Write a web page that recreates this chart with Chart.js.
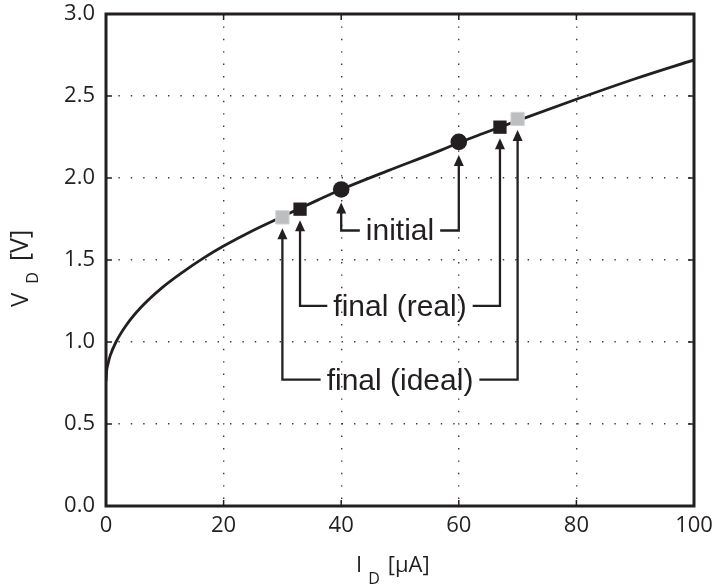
<!DOCTYPE html>
<html>
<head>
<meta charset="utf-8">
<script src="https://cdn.jsdelivr.net/npm/chart.js@4.4.1/dist/chart.umd.min.js"></script>
<style>
  html, body { margin: 0; padding: 0; background: #fff; }
  canvas { display: block; }
</style>
</head>
<body>
<canvas id="c" width="713" height="586"></canvas>
<script>
// Diode characteristic: drain current (µA) against diode voltage (V)
const currentUA = [0, 0.1, 0.3, 0.7, 1.7, 3.5, 6, 9.5, 13, 16.5, 20, 25, 30, 36, 40, 48, 57, 60, 64, 70, 80, 90, 100];
const voltageV  = [0.76, 0.82, 0.86, 0.915, 1.00, 1.105, 1.213, 1.33, 1.425, 1.51, 1.585, 1.68, 1.765, 1.865, 1.93, 2.045, 2.17, 2.215, 2.27, 2.35, 2.48, 2.605, 2.72];

// Operating points
const initialI = [40, 60];
const initialV = [1.93, 2.22];
const realI    = [33, 67];
const realV    = [1.81, 2.31];
const idealI   = [30, 70];
const idealV   = [1.76, 2.36];

// Tick values
const xTicks = [0, 20, 40, 60, 80, 100];
const yTicks = [0, 0.5, 1.0, 1.5, 2.0, 2.5, 3.0];

// Callout captions and the voltage level of their leader lines
const calloutText = ['initial', 'final (real)', 'final (ideal)'];
const calloutLevelV = [1.68, 1.22, 0.77];
const calloutCenterI = 50;

const ink = '#231f20';
const tickFont = { family: '"Open Sans", "DejaVu Sans", sans-serif', size: 22 };

const toPoints = (xs, ys) => xs.map((v, i) => ({ x: v, y: ys[i] }));

const callouts = [
  { text: calloutText[0], level: calloutLevelV[0], xs: initialI, ys: initialV, gap: 13 },
  { text: calloutText[1], level: calloutLevelV[1], xs: realI, ys: realV, gap: 11 },
  { text: calloutText[2], level: calloutLevelV[2], xs: idealI, ys: idealV, gap: 11 }
];

// Leader lines with arrowheads pointing at the operating points
const calloutPlugin = {
  id: 'callouts',
  afterDatasetsDraw(chart) {
    const { ctx, scales: { x, y } } = chart;
    ctx.save();
    ctx.font = '30px "Liberation Sans", Arial, sans-serif';
    ctx.fillStyle = ink;
    ctx.strokeStyle = ink;
    ctx.lineWidth = 2.3;
    ctx.lineJoin = 'miter';
    ctx.lineCap = 'butt';
    const cx = x.getPixelForValue(calloutCenterI);
    callouts.forEach(c => {
      const ly = y.getPixelForValue(c.level);
      const w = ctx.measureText(c.text).width;
      ctx.textAlign = 'center';
      ctx.textBaseline = 'alphabetic';
      ctx.fillText(c.text, cx, ly + 10);
      const ends = [cx - w / 2 - 6, cx + w / 2 + 6];
      c.xs.forEach((xi, k) => {
        const px = x.getPixelForValue(xi);
        const tip = y.getPixelForValue(c.ys[k]) + c.gap;
        ctx.beginPath();
        ctx.moveTo(ends[k], ly);
        ctx.lineTo(px, ly);
        ctx.lineTo(px, tip + 8);
        ctx.stroke();
        ctx.beginPath();
        ctx.moveTo(px, tip);
        ctx.lineTo(px - 5, tip + 11);
        ctx.lineTo(px + 5, tip + 11);
        ctx.closePath();
        ctx.fill();
      });
    });
    ctx.restore();
  }
};

// Box frame with inward tick marks on all four sides, plus axis titles
const framePlugin = {
  id: 'frame',
  afterDraw(chart) {
    const { ctx, chartArea: a, scales: { x, y } } = chart;
    ctx.save();
    ctx.strokeStyle = ink;
    ctx.lineWidth = 1.5;
    const tl = 6;
    xTicks.forEach(v => {
      const px = x.getPixelForValue(v);
      ctx.beginPath();
      ctx.moveTo(px, a.bottom); ctx.lineTo(px, a.bottom - tl);
      ctx.moveTo(px, a.top); ctx.lineTo(px, a.top + tl);
      ctx.stroke();
    });
    yTicks.forEach(v => {
      const py = y.getPixelForValue(v);
      ctx.beginPath();
      ctx.moveTo(a.left, py); ctx.lineTo(a.left + tl, py);
      ctx.moveTo(a.right, py); ctx.lineTo(a.right - tl, py);
      ctx.stroke();
    });
    ctx.lineWidth = 3;
    ctx.strokeRect(a.left, a.top, a.right - a.left, a.bottom - a.top);

    // Axis title built from main text and a subscript
    const drawTitle = (parts, startX, baseY) => {
      let xx = startX;
      parts.forEach(p => {
        ctx.font = `${p.size}px "Open Sans", "DejaVu Sans", sans-serif`;
        ctx.fillText(p.t, xx, baseY + (p.dy || 0));
        xx += ctx.measureText(p.t).width + (p.after || 0);
      });
    };
    ctx.fillStyle = ink;
    ctx.textAlign = 'left';
    ctx.textBaseline = 'alphabetic';
    drawTitle([
      { t: 'I', size: 22, after: 6 },
      { t: 'D', size: 16, dy: 12, after: 8 },
      { t: '[µA]', size: 22 }
    ], 356, 572);

    ctx.save();
    ctx.translate(28, 307);
    ctx.rotate(-Math.PI / 2);
    drawTitle([
      { t: 'V', size: 24, after: 9 },
      { t: 'D', size: 16, dy: 10, after: 11 },
      { t: '[V]', size: 25 }
    ], 0, 0);
    ctx.restore();
    ctx.restore();
  }
};

new Chart(document.getElementById('c'), {
  type: 'scatter',
  data: {
    datasets: [
      {
        data: toPoints(currentUA, voltageV),
        showLine: true,
        borderColor: ink,
        borderWidth: 2.8,
        pointRadius: 0,
        cubicInterpolationMode: 'monotone',
        order: 3
      },
      {
        data: toPoints(initialI, initialV),
        pointStyle: 'circle',
        pointRadius: 8.3,
        backgroundColor: ink,
        borderColor: ink,
        borderWidth: 0,
        order: 0
      },
      {
        data: toPoints(realI, realV),
        pointStyle: 'rect',
        pointRadius: 9.4,
        backgroundColor: ink,
        borderColor: ink,
        borderWidth: 0,
        order: 0
      },
      {
        data: toPoints(idealI, idealV),
        pointStyle: 'rect',
        pointRadius: 9.4,
        backgroundColor: '#bcbec0',
        borderColor: '#d1d3d4',
        borderWidth: 1,
        order: 0
      }
    ]
  },
  options: {
    responsive: false,
    animation: false,
    devicePixelRatio: 1,
    layout: { padding: { left: 0, top: 14, right: 19, bottom: 0 } },
    plugins: { legend: { display: false }, tooltip: { enabled: false } },
    scales: {
      x: {
        type: 'linear',
        min: 0,
        max: 100,
        afterFit(s) { s.height = 80; s.paddingLeft = 0; s.paddingRight = 0; },
        afterBuildTicks(s) { s.ticks = xTicks.map(v => ({ value: v })); },
        ticks: { padding: 7, font: tickFont, color: ink, maxRotation: 0 },
        grid: { color: '#3a3a3a', lineWidth: 1.4, drawTicks: false },
        border: { display: false, dash: [1.4, 11] }
      },
      y: {
        type: 'linear',
        min: 0,
        max: 3,
        afterFit(s) { s.width = 106; s.paddingTop = 0; s.paddingBottom = 0; },
        afterBuildTicks(s) { s.ticks = yTicks.map(v => ({ value: v })); },
        ticks: { padding: 11, font: tickFont, color: ink, callback: v => Number(v).toFixed(1) },
        grid: { color: '#3a3a3a', lineWidth: 1.4, drawTicks: false },
        border: { display: false, dash: [1.4, 11] }
      }
    }
  },
  plugins: [calloutPlugin, framePlugin]
});
</script>
</body>
</html>
